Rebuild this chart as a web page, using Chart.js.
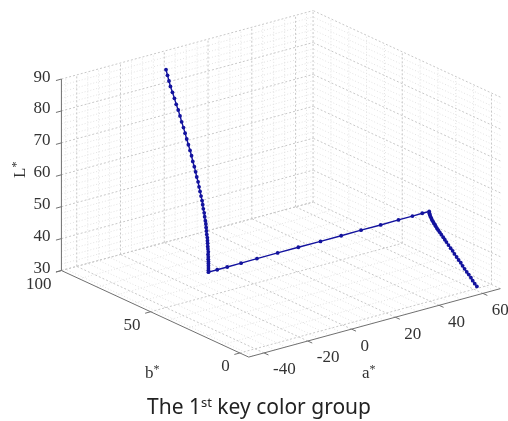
<!DOCTYPE html>
<html>
<head>
<meta charset="utf-8">
<script src="https://cdn.jsdelivr.net/npm/chart.js@4.4.1/dist/chart.umd.min.js"></script>
<style>
    html, body { margin: 0; padding: 0; background: #fff; }
    #wrap { position: relative; width: 508px; height: 421px; }
    #chart { position: absolute; left: 0; top: 0; }
    #caption {
        position: absolute; left: 0; top: 394px; width: 518px;
        text-align: center; font-family: "Noto Sans", sans-serif;
        font-size: 21px; line-height: 24px; color: #222;
    }
    #caption sup { font-size: 13px; vertical-align: 7px; line-height: 0; }
</style>
</head>
<body>
<div id="wrap">
    <canvas id="chart" width="508" height="421"></canvas>
    <div id="caption">The 1<sup>st</sup> key color group</div>
</div>
<script>
// Path through L*a*b* space (top run, floor run, right run)
const aValues = [
    -11.1, -11.4, -11.7, -12.1, -12.4, -12.8, -13.2, -13.6, -14.0, -14.4,
    -14.7, -15.1, -15.5, -15.8, -16.1, -16.4, -16.8, -17.0, -17.3, -17.6,
    -17.8, -18.1, -18.3, -18.5, -18.6, -18.8, -19.0, -19.1, -19.2, -19.3,
    -19.4, -19.5, -19.6, -19.7, -19.7, -19.8, -19.8, -19.9, -19.9, -19.9,
    -20.0, -20.0, -20.0, -20.0, -20.0, -20.0, -20.0, -20.0, -20.0,
    -16.8, -13.2, -8.2, -2.4, 5.1, 12.6, 20.6, 28.1, 35.3, 42.4, 48.9, 53.9, 57.5, 60.0,
    60.0, 60.1, 60.1, 60.2, 60.2, 60.2, 60.3, 60.3, 60.4, 60.4, 60.4, 60.5, 60.6, 60.6,
    60.7, 60.8, 60.8, 60.9, 61.0, 61.1, 61.1, 61.2, 61.3, 61.4, 61.4, 61.5, 61.6, 61.7,
    61.8, 61.8, 61.9, 62.0
];
const bValues = [
    85.4, 84.2, 83.0, 81.7, 80.2, 78.6, 77.1, 75.5, 74.0, 72.6,
    71.2, 69.8, 68.4, 67.1, 65.8, 64.6, 63.4, 62.3, 61.2, 60.2,
    59.2, 58.3, 57.5, 56.7, 56.0, 55.4, 54.8, 54.2, 53.8, 53.3,
    52.9, 52.6, 52.3, 52.0, 51.7, 51.5, 51.4, 51.2, 51.1, 50.9,
    50.9, 50.8, 50.8, 50.7, 50.7, 50.7, 50.7, 50.7, 50.7,
    49.7, 48.5, 46.9, 45.1, 42.7, 40.3, 37.7, 35.3, 33.0, 30.7, 28.7, 27.0, 25.9, 25.1,
    25.0, 24.9, 24.7, 24.4, 24.0, 23.6, 23.2, 22.8, 22.3, 21.9, 21.2, 20.6, 19.9, 19.0,
    18.1, 17.3, 16.4, 15.4, 14.3, 13.3, 12.3, 11.2, 10.2, 9.1, 8.1, 7.1, 6.0, 5.0,
    3.9, 2.9, 1.9, 0.8
];
const lValues = [
    90.0, 88.6, 87.2, 85.9, 84.5, 83.1, 81.7, 80.4, 79.0, 77.6,
    76.2, 74.9, 73.5, 72.1, 70.7, 69.4, 68.0, 66.7, 65.4, 64.1,
    62.9, 61.6, 60.4, 59.2, 58.0, 56.9, 55.8, 54.7, 53.6, 52.5,
    51.6, 50.6, 49.6, 48.6, 47.7, 46.8, 46.0, 45.1, 44.3, 43.5,
    42.7, 41.9, 41.2, 40.5, 39.9, 39.2, 38.5, 37.8, 37.2,
    37.6, 38.1, 38.8, 39.6, 40.6, 41.6, 42.6, 43.6, 44.6, 45.5, 46.4, 47.1, 47.6, 47.9,
    47.4, 47.0, 46.6, 46.2, 45.8, 45.4, 45.1, 44.7, 44.4, 44.0, 43.5, 43.1, 42.6, 42.1,
    41.5, 40.9, 40.4, 39.7, 39.0, 38.4, 37.7, 37.0, 36.3, 35.7, 35.0, 34.3, 33.6, 33.0,
    32.3, 31.6, 30.9, 30.3
];

// Axis ticks and grid lines
const aTicks = [-40, -20, 0, 20, 40, 60];
const bTicks = [0, 50, 100];
const lTicks = [30, 40, 50, 60, 70, 80, 90];
const aGrid = [-45, -40, -35, -30, -25, -20, -15, -10, -5, 0, 5, 10, 15, 20, 25, 30, 35, 40, 45, 50, 55, 60, 65];
const bGrid = [0, 10, 20, 30, 40, 50, 60, 70, 80, 90, 100];
const lGrid = [30, 32, 34, 36, 38, 40, 42, 44, 46, 48, 50, 52, 54, 56, 58, 60,
               62, 64, 66, 68, 70, 72, 74, 76, 78, 80, 82, 84, 86, 88, 90];

// Axis limits
const A_MIN = -47, A_MAX = 68;
const B_MIN = -5, B_MAX = 100;
const L_MIN = 30, L_MAX = 90;

// View (az, el) and box size
const AZ = -37.5 * Math.PI / 180;
const EL = 20.8 * Math.PI / 180;
const BOX = [319.6, 310, 206.7];

const LINE_COLOR = '#13139e';
const AXIS_COLOR = '#707070';
const TEXT_COLOR = '#333';
const TICK_FONT = '17px "Liberation Serif", "Times New Roman", serif';

// Orthographic projection to the view plane
function project(a, b, L) {
    const u = ((a - A_MIN) / (A_MAX - A_MIN) - 0.5) * BOX[0];
    const v = ((b - B_MIN) / (B_MAX - B_MIN) - 0.5) * BOX[1];
    const w = ((L - L_MIN) / (L_MAX - L_MIN) - 0.5) * BOX[2];
    return {
        x: Math.cos(AZ) * u + Math.sin(AZ) * v,
        y: -Math.sin(EL) * Math.sin(AZ) * u + Math.sin(EL) * Math.cos(AZ) * v + Math.cos(EL) * w
    };
}

const points = aValues.map((a, i) => project(a, bValues[i], lValues[i]));

function toPx(chart, a, b, L) {
    const p = project(a, b, L);
    return { x: chart.scales.x.getPixelForValue(p.x), y: chart.scales.y.getPixelForValue(p.y) };
}

// Draw 3D box: grid planes, axes, ticks and labels
const box3d = {
    id: 'box3d',
    beforeDatasetsDraw(chart) {
        const ctx = chart.ctx;
        const line = (p, q) => {
            ctx.beginPath();
            ctx.moveTo(p.x, p.y);
            ctx.lineTo(q.x, q.y);
            ctx.stroke();
        };
        const P = (a, b, L) => toPx(chart, a, b, L);
        ctx.save();
        ctx.lineWidth = 1;

        // grid, minor first then major
        [false, true].forEach(major => {
            ctx.strokeStyle = major ? '#c8c8c8' : '#e2e2e2';
            ctx.setLineDash(major ? [2, 2] : [1, 2]);
            aGrid.filter(a => aTicks.includes(a) === major).forEach(a => {
                line(P(a, B_MIN, L_MIN), P(a, B_MAX, L_MIN));
                line(P(a, B_MAX, L_MIN), P(a, B_MAX, L_MAX));
            });
            bGrid.filter(b => bTicks.includes(b) === major).forEach(b => {
                line(P(A_MIN, b, L_MIN), P(A_MAX, b, L_MIN));
                line(P(A_MAX, b, L_MIN), P(A_MAX, b, L_MAX));
            });
            lGrid.filter(L => lTicks.includes(L) === major).forEach(L => {
                line(P(A_MIN, B_MAX, L), P(A_MAX, B_MAX, L));
                line(P(A_MAX, B_MIN, L), P(A_MAX, B_MAX, L));
            });
        });

        // axes
        ctx.setLineDash([]);
        ctx.strokeStyle = AXIS_COLOR;
        line(P(A_MIN, B_MIN, L_MIN), P(A_MAX, B_MIN, L_MIN));
        line(P(A_MIN, B_MIN, L_MIN), P(A_MIN, B_MAX, L_MIN));
        line(P(A_MIN, B_MAX, L_MIN), P(A_MIN, B_MAX, L_MAX));

        // ticks and tick labels
        ctx.fillStyle = TEXT_COLOR;
        ctx.font = TICK_FONT;
        ctx.textBaseline = 'middle';
        ctx.textAlign = 'left';
        aTicks.forEach(a => {
            const p = P(a, B_MIN, L_MIN);
            line(p, P(a, B_MIN - 2.5, L_MIN));
            ctx.fillText(String(a), p.x + 9, p.y + 17);
        });
        ctx.textAlign = 'right';
        bTicks.forEach(b => {
            const p = P(A_MIN, b, L_MIN);
            line(p, P(A_MIN - 2.5, b, L_MIN));
            ctx.fillText(String(b), p.x - 10, p.y + 13.5);
        });
        lTicks.forEach(L => {
            const p = P(A_MIN, B_MAX, L);
            line(p, P(A_MIN - 2.5, B_MAX, L));
            ctx.fillText(String(L), p.x - 11, p.y - 2);
        });

        // axis titles with superscript star
        const title = (letter, x, y, rot) => {
            ctx.save();
            ctx.translate(x, y);
            ctx.rotate(rot);
            ctx.textAlign = 'left';
            ctx.textBaseline = 'alphabetic';
            ctx.font = TICK_FONT;
            ctx.fillText(letter, 0, 0);
            const w = ctx.measureText(letter).width;
            ctx.font = '12px "Liberation Serif", serif';
            ctx.fillText('*', w, -5);
            ctx.restore();
        };
        title('a', 362, 378, 0);
        title('b', 145, 378, 0);
        title('L', 25, 178, -Math.PI / 2);

        ctx.restore();
    }
};

new Chart(document.getElementById('chart'), {
    type: 'scatter',
    data: {
        datasets: [{
            data: points,
            showLine: true,
            borderColor: LINE_COLOR,
            backgroundColor: LINE_COLOR,
            borderWidth: 1.4,
            pointRadius: 1.9,
            pointHoverRadius: 1.9,
            pointBorderWidth: 0,
            tension: 0
        }]
    },
    options: {
        responsive: false,
        animation: false,
        layout: { padding: 0 },
        plugins: {
            legend: { display: false },
            tooltip: { enabled: false }
        },
        scales: {
            x: { type: 'linear', min: -281.1, max: 226.9, display: false },
            y: { type: 'linear', min: -237.4, max: 183.6, display: false }
        }
    },
    plugins: [box3d]
});
</script>
</body>
</html>
